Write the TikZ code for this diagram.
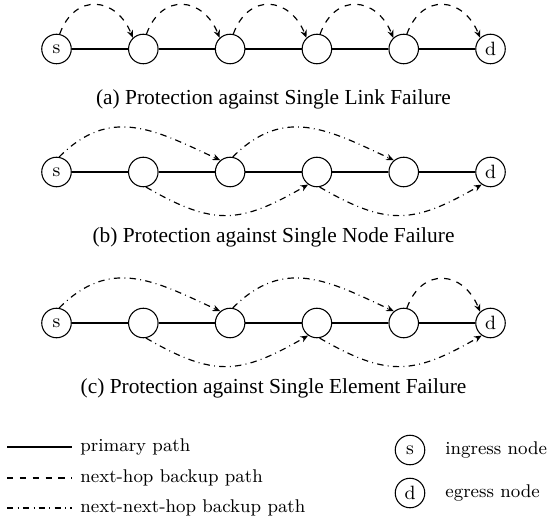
\documentclass[tikz,border=0pt]{standalone}
\usepackage{fontspec}
\newfontfamily\capfont{Liberation Serif}
\usetikzlibrary{arrows.meta}
\begin{document}
\begin{tikzpicture}[x=0.4673pt,y=0.4673pt,
  every node/.style={inner sep=0pt},
  nd/.style={draw,circle,minimum size=13.8pt,line width=0.5pt,font=\fontsize{9}{10}\selectfont},
  prim/.style={line width=0.6pt},
  nh/.style={dashed,line width=0.55pt,-{Stealth[length=3.6pt,width=3pt]}},
  nnh/.style={dashdotted,line width=0.55pt,-{Stealth[length=3.6pt,width=3pt]}},
  captxt/.style={font=\capfont\fontsize{10}{12}\selectfont},
  leg/.style={font=\fontsize{8.6}{10}\selectfont,anchor=west}]
\useasboundingbox (0,0) rectangle (548,524);
% rows of nodes
\foreach \r/\y in {a/475,b/352,c/201}{
  \node[nd] (\r0) at (56.5,\y) {s};
  \foreach \i in {1,...,4}{
    \node[nd] (\r\i) at ({56.5+86.8*\i},\y) {};
  }
  \node[nd] (\r5) at (490.5,\y) {d};
  \draw[prim] (\r0) -- (\r1) -- (\r2) -- (\r3) -- (\r4) -- (\r5);
}
% (a) next-hop
\foreach \i [evaluate=\i as \j using int(\i+1)] in {0,...,4}{
  \draw[nh] (a\i.78) to[out=70,in=112,looseness=1.55] (a\j.133);
}
% (b)
\draw[nnh] (b0.80) to[out=45,in=155,looseness=1.15] (b2.130);
\draw[nnh] (b2.80) to[out=45,in=155,looseness=1.15] (b4.130);
\draw[nnh] (b1.-80) to[out=-30,in=-150,looseness=1.24] (b3.-125);
\draw[nnh] (b3.-80) to[out=-30,in=-150,looseness=1.24] (b5.-125);
% (c)
\draw[nnh] (c0.80) to[out=45,in=155,looseness=1.15] (c2.130);
\draw[nnh] (c2.80) to[out=45,in=155,looseness=1.15] (c4.130);
\draw[nnh] (c1.-80) to[out=-30,in=-150,looseness=1.24] (c3.-125);
\draw[nnh] (c3.-80) to[out=-30,in=-150,looseness=1.24] (c5.-125);
\draw[nh] (c4.78) to[out=70,in=112,looseness=1.55] (c5.133);
% captions
\node[captxt] (capa) at (273.5,425) {(a) Protection against Single Link Failure};
\node[captxt] (capb) at (273.5,287) {(b) Protection against Single Node Failure};
\node[captxt] (capc) at (273.5,136) {(c) Protection against Single Element Failure};
% legend
\coordinate (l1a) at (7,77);  \coordinate (l1b) at (72,77);
\coordinate (l2a) at (7,46);  \coordinate (l2b) at (72,46);
\coordinate (l3a) at (7,16);  \coordinate (l3b) at (72,16);
\draw[prim] (l1a) -- (l1b);
\draw[dashed,line width=0.55pt] (l2a) -- (l2b);
\draw[dashdotted,line width=0.55pt] (l3a) -- (l3b);
\node[leg] (t1) at (80,77) {primary path};
\node[leg] (t2) at (80,46) {next-hop backup path};
\node[leg] (t3) at (80,16) {next-next-hop backup path};
\node[nd] (ls) at (410,74) {s};
\node[nd] (ld) at (410,31) {d};
\node[leg] (t4) at (445,74) {ingress node};
\node[leg] (t5) at (445,31) {egress node};
\end{tikzpicture}
\end{document}
